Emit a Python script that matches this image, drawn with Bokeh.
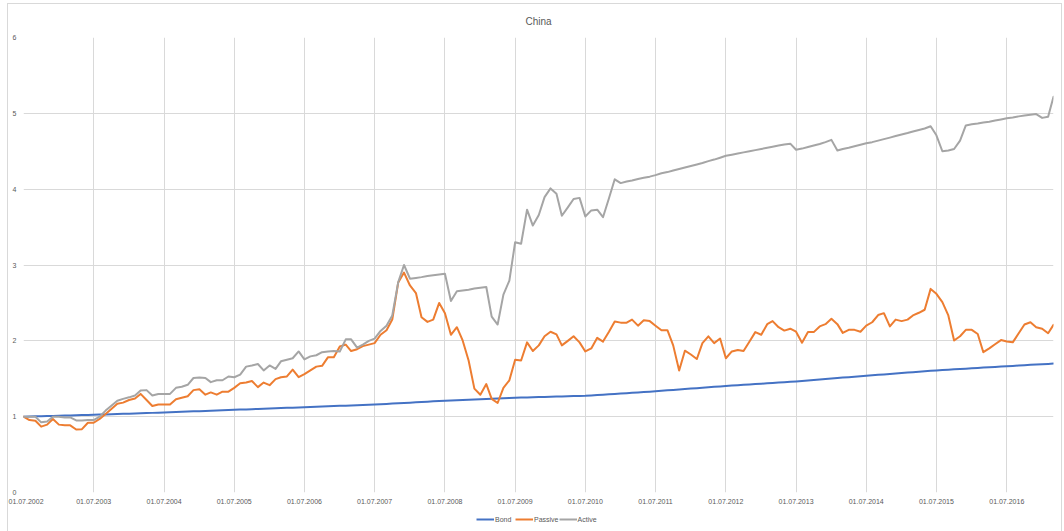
import pandas as pd
from bokeh.plotting import figure
from bokeh.layouts import column
from bokeh.models import (ColumnDataSource, Range1d, FixedTicker,
                          DatetimeTickFormatter, Legend, LegendItem)
from bokeh.embed import file_html
from bokeh.resources import INLINE

# ---- data: monthly index levels, base 1.0 at 01.07.2002 ----
first_month = "2002-07-01"
n_months = 177

bond = [
    1.000, 1.002, 1.004, 1.006, 1.008, 1.010, 1.013, 1.015, 1.017, 1.019, 1.021, 1.023,
    1.025, 1.027, 1.030, 1.032, 1.035, 1.037, 1.040, 1.042, 1.045, 1.047, 1.050, 1.052,
    1.055, 1.058, 1.061, 1.064, 1.067, 1.070, 1.073, 1.076, 1.079, 1.082, 1.084, 1.087,
    1.090, 1.093, 1.096, 1.099, 1.102, 1.105, 1.108, 1.110, 1.113, 1.116, 1.119, 1.122,
    1.125, 1.128, 1.131, 1.134, 1.137, 1.140, 1.143, 1.145, 1.148, 1.151, 1.154, 1.157,
    1.160, 1.164, 1.168, 1.172, 1.177, 1.181, 1.185, 1.189, 1.193, 1.198, 1.202, 1.206,
    1.210, 1.213, 1.217, 1.220, 1.223, 1.227, 1.230, 1.233, 1.237, 1.240, 1.243, 1.247,
    1.250, 1.252, 1.254, 1.256, 1.258, 1.260, 1.262, 1.265, 1.267, 1.269, 1.271, 1.273,
    1.275, 1.280, 1.285, 1.290, 1.295, 1.300, 1.305, 1.310, 1.315, 1.320, 1.325, 1.330,
    1.335, 1.341, 1.347, 1.352, 1.358, 1.364, 1.370, 1.376, 1.382, 1.387, 1.393, 1.399,
    1.405, 1.410, 1.415, 1.420, 1.425, 1.430, 1.435, 1.440, 1.445, 1.450, 1.455, 1.460,
    1.465, 1.471, 1.477, 1.484, 1.490, 1.496, 1.502, 1.509, 1.515, 1.521, 1.527, 1.534,
    1.540, 1.546, 1.552, 1.557, 1.563, 1.569, 1.575, 1.581, 1.587, 1.592, 1.598, 1.604,
    1.610, 1.615, 1.619, 1.624, 1.628, 1.633, 1.637, 1.642, 1.647, 1.651, 1.656, 1.660,
    1.665, 1.669, 1.674, 1.678, 1.683, 1.687, 1.691, 1.696, 1.700,
]

passive = [
    1.00, 0.956, 0.947, 0.868, 0.895, 0.97, 0.895, 0.886, 0.886, 0.83, 0.835, 0.92,
    0.92, 0.97, 1.035, 1.10, 1.17, 1.185, 1.22, 1.24, 1.30, 1.22, 1.14, 1.16,
    1.16, 1.16, 1.23, 1.25, 1.27, 1.35, 1.36, 1.29, 1.32, 1.29, 1.33, 1.33,
    1.38, 1.44, 1.45, 1.47, 1.39, 1.45, 1.415, 1.495, 1.52, 1.53, 1.62, 1.52,
    1.56, 1.61, 1.66, 1.67, 1.785, 1.785, 1.925, 1.95, 1.865, 1.89, 1.93, 1.95,
    1.97, 2.08, 2.14, 2.28, 2.77, 2.90, 2.73, 2.63, 2.31, 2.25, 2.28, 2.50,
    2.365, 2.08, 2.18, 2.005, 1.74, 1.37, 1.29, 1.43, 1.235, 1.18, 1.38, 1.48,
    1.75, 1.74, 1.98, 1.865, 1.94, 2.06, 2.12, 2.085, 1.94, 2.00, 2.06, 1.98,
    1.86, 1.90, 2.04, 1.99, 2.12, 2.255, 2.24, 2.24, 2.28, 2.20, 2.27, 2.26,
    2.20, 2.14, 2.14, 1.94, 1.61, 1.87, 1.82, 1.76, 1.97, 2.06, 1.97, 2.03,
    1.77, 1.86, 1.88, 1.865, 1.99, 2.115, 2.08, 2.22, 2.26, 2.18, 2.135, 2.16,
    2.12, 1.975, 2.115, 2.115, 2.19, 2.22, 2.29, 2.22, 2.105, 2.145, 2.145, 2.12,
    2.20, 2.245, 2.34, 2.365, 2.19, 2.28, 2.26, 2.28, 2.335, 2.37, 2.41, 2.685,
    2.62, 2.51, 2.335, 2.005, 2.06, 2.145, 2.145, 2.09, 1.85, 1.90, 1.955, 2.01,
    1.99, 1.98, 2.10, 2.215, 2.245, 2.18, 2.16, 2.10, 2.21,
]

active = [
    1.00, 1.00, 1.00, 0.925, 0.935, 1.00, 1.00, 0.99, 0.99, 0.95, 0.95, 0.955,
    0.955, 1.00, 1.08, 1.145, 1.21, 1.235, 1.255, 1.28, 1.345, 1.35, 1.28, 1.30,
    1.30, 1.30, 1.38, 1.395, 1.42, 1.51, 1.515, 1.51, 1.455, 1.48, 1.48, 1.53,
    1.52, 1.555, 1.66, 1.675, 1.695, 1.61, 1.675, 1.63, 1.73, 1.75, 1.77, 1.86,
    1.755, 1.795, 1.81, 1.85, 1.86, 1.865, 1.86, 2.02, 2.02, 1.91, 1.95, 2.00,
    2.03, 2.13, 2.20, 2.335, 2.775, 3.00, 2.82, 2.83, 2.84, 2.855, 2.865, 2.875,
    2.885, 2.525, 2.655, 2.665, 2.675, 2.69, 2.70, 2.71, 2.32, 2.215, 2.61, 2.795,
    3.30, 3.28, 3.73, 3.52, 3.66, 3.895, 4.01, 3.94, 3.65, 3.76, 3.87, 3.885,
    3.64, 3.72, 3.73, 3.63, 3.88, 4.13, 4.08, 4.10, 4.115, 4.135, 4.15, 4.165,
    4.185, 4.21, 4.225, 4.245, 4.265, 4.285, 4.305, 4.325, 4.345, 4.37, 4.39, 4.415,
    4.44, 4.455, 4.47, 4.485, 4.50, 4.515, 4.53, 4.545, 4.56, 4.575, 4.59, 4.60,
    4.52, 4.535, 4.555, 4.575, 4.595, 4.62, 4.65, 4.51, 4.53, 4.545, 4.565, 4.585,
    4.605, 4.62, 4.64, 4.66, 4.68, 4.70, 4.72, 4.74, 4.76, 4.78, 4.80, 4.83,
    4.71, 4.50, 4.51, 4.53, 4.64, 4.84, 4.855, 4.865, 4.88, 4.89, 4.905, 4.92,
    4.935, 4.945, 4.96, 4.97, 4.98, 4.99, 4.94, 4.955, 5.22,
]

tick_labels = ["01.07.2002", "01.07.2003", "01.07.2004", "01.07.2005",
               "01.07.2006", "01.07.2007", "01.07.2008", "01.07.2009",
               "01.07.2010", "01.07.2011", "01.07.2012", "01.07.2013",
               "01.07.2014", "01.07.2015", "01.07.2016"]
y_ticks = [0, 1, 2, 3, 4, 5, 6]

series_names = ["Bond", "Passive", "Active"]
series_colors = ["#4472C4", "#ED7D31", "#A5A5A5"]

# ---- build ----
dates = pd.date_range(first_month, periods=n_months, freq="MS")
source = ColumnDataSource(dict(date=dates, Bond=bond, Passive=passive, Active=active))

tick_dates = pd.to_datetime(tick_labels, format="%d.%m.%Y")
tick_ms = [d.timestamp() * 1000.0 for d in tick_dates]

TEXT = "#595959"
GRID = "#D9D9D9"
FONT = "Liberation Sans"
W = 1053
x_span = (dates[0].to_pydatetime(), dates[-1].to_pydatetime())

p = figure(width=W, height=506, x_axis_type="datetime",
           output_backend="svg", toolbar_location=None,
           x_range=Range1d(*x_span), y_range=Range1d(0, 6),
           min_border_left=15, min_border_right=8,
           min_border_top=33, min_border_bottom=18)
p.outline_line_color = None
p.background_fill_color = "white"
p.border_fill_color = "white"

p.title.text = "China"
p.title.align = "center"
p.title.vertical_align = "middle"
p.title.text_font = FONT
p.title.text_font_size = "10px"
p.title.text_font_style = "normal"
p.title.text_color = TEXT
p.title.standoff = 20

xticker = FixedTicker(ticks=tick_ms, minor_ticks=[])
yticker = FixedTicker(ticks=y_ticks, minor_ticks=[])
p.xaxis.ticker = xticker
p.yaxis.ticker = yticker
fmt = "%d.%m.%Y"
p.xaxis.formatter = DatetimeTickFormatter(
    milliseconds=fmt, seconds=fmt, minsec=fmt, minutes=fmt, hourmin=fmt,
    hours=fmt, days=fmt, months=fmt, years=fmt)

for ax in (p.xaxis[0], p.yaxis[0]):
    ax.axis_line_color = None
    ax.major_tick_line_color = None
    ax.minor_tick_line_color = None
    ax.major_tick_out = 0
    ax.major_tick_in = 0
    ax.axis_label_standoff = 0
    ax.major_label_text_font = FONT
    ax.major_label_text_font_size = "7px"
    ax.major_label_text_color = TEXT
p.xaxis.major_label_standoff = 6
p.yaxis.major_label_standoff = 7

p.xgrid.ticker = xticker
p.ygrid.ticker = yticker
p.xgrid.grid_line_color = GRID
p.ygrid.grid_line_color = GRID

for name, color in zip(series_names, series_colors):
    p.line("date", name, source=source, line_color=color, line_width=2,
           line_join="round", line_cap="round")

# legend strip under the chart: same series, drawn outside its visible range
leg = figure(width=W, height=21, output_backend="svg", toolbar_location=None,
             x_axis_location=None, y_axis_location=None,
             x_range=Range1d(*x_span), y_range=Range1d(-2, -1),
             min_border=0, outline_line_color=None)
leg.border_fill_color = "white"
leg.background_fill_color = "white"
leg.xgrid.visible = False
leg.ygrid.visible = False
key_renderers = [leg.line("date", n, source=source, line_color=c, line_width=2)
                 for n, c in zip(series_names, series_colors)]
legend = Legend(items=[LegendItem(label=n, renderers=[r])
                       for n, r in zip(series_names, key_renderers)],
                orientation="horizontal", location=(453, 7),
                border_line_color=None, background_fill_alpha=0,
                padding=0, margin=0, spacing=0, label_standoff=1,
                glyph_width=18, glyph_height=10, label_height=10,
                label_text_font=FONT, label_text_font_size="7px",
                label_text_color=TEXT)
leg.add_layout(legend, "center")

layout = column(p, leg, spacing=0)
layout.margin = (4, 3, 0, 8)
layout.stylesheets = [":host { outline: 1px solid #D9D9D9; }"]

open("out.html", "w").write(file_html(layout, INLINE))
